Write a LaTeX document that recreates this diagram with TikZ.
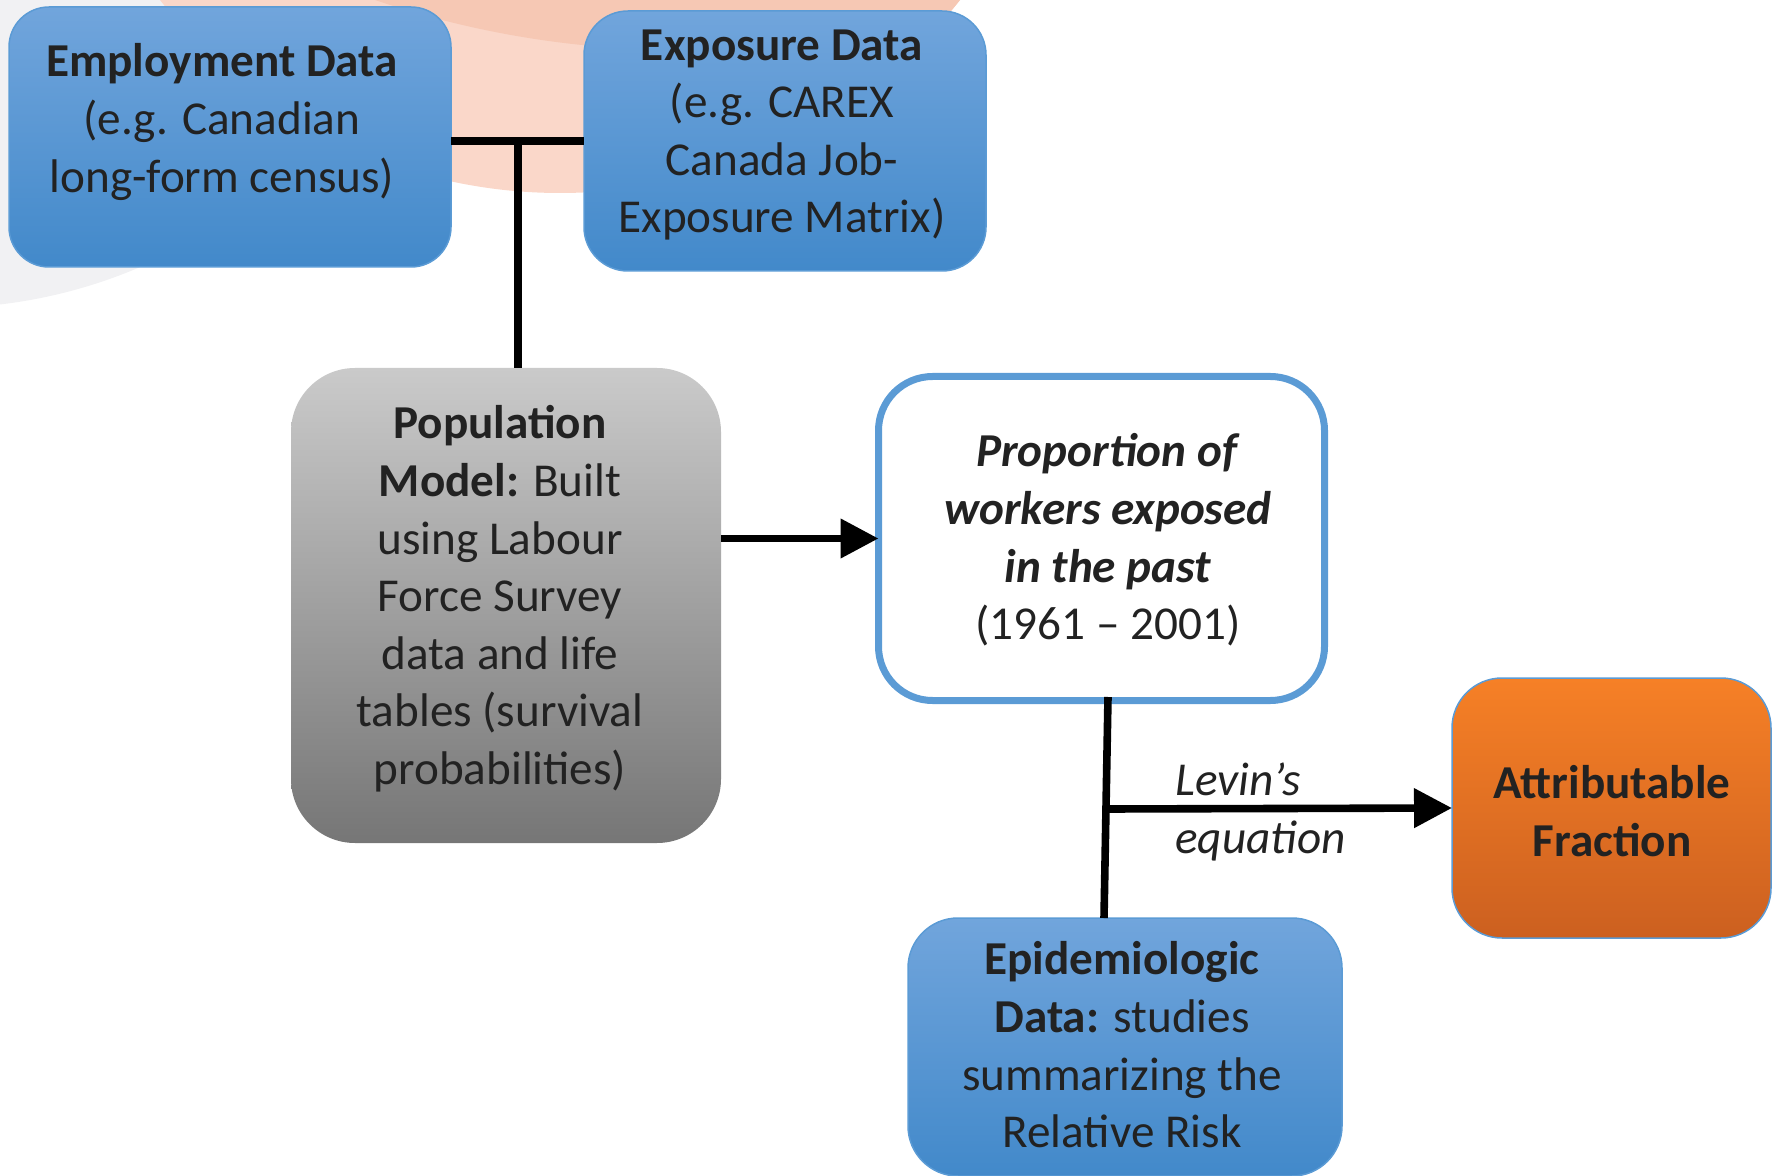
\documentclass[tikz,border=0pt]{standalone}
\usepackage{fontspec}
\setmainfont{Carlito}
\usetikzlibrary{arrows.meta,calc,positioning}

\definecolor{ink}{RGB}{34,34,34}
\definecolor{bluetop}{RGB}{113,165,220}
\definecolor{bluebot}{RGB}{66,137,202}
\definecolor{blueedge}{RGB}{91,155,213}
\definecolor{greytop}{RGB}{202,202,202}
\definecolor{greybot}{RGB}{118,118,118}
\definecolor{orangetop}{RGB}{246,128,38}
\definecolor{orangebot}{RGB}{204,96,32}
\definecolor{peach}{RGB}{250,215,201}
\definecolor{peachdark}{RGB}{246,200,180}
\definecolor{shadowgrey}{RGB}{241,241,243}

\newcommand{\boxfont}{\fontsize{23.6}{28.8}\selectfont}

\begin{document}
\begin{tikzpicture}[
  x=0.5pt, y=-0.5pt,
  box/.style={inner sep=0pt, outer sep=0pt},
  datab/.style={box, draw=blueedge, line width=0.75pt, top color=bluetop, bottom color=bluebot},
  modelb/.style={box, top color=greytop, bottom color=greybot},
  propb/.style={box, draw=blueedge, line width=3.5pt, fill=white},
  resultb/.style={box, draw=blueedge, line width=0.75pt, top color=orangetop, bottom color=orangebot},
  txt/.style={align=center, font=\boxfont, text=ink, inner sep=0pt},
  link/.style={line width=3.8pt},
  arr/.style={link, -{Triangle[length=19pt,width=19pt]}}
]
\useasboundingbox (0,0) rectangle (1777,1176);

% faint slide background
\begin{scope}
  \clip (0,0) rectangle (1777,1176);
  \fill[shadowgrey] (-60,-200) circle[radius=508];
  \fill[peach] (560,-318) circle[radius=511];
  \clip (560,-318) circle[radius=511];
  \fill[peachdark] (680,-900) circle[radius=950];
\end{scope}

% boxes
\node[datab, rounded corners=20pt, minimum width=221pt, minimum height=130pt] (emp) at (230,137) {};
\node[datab, rounded corners=22pt, minimum width=201pt, minimum height=130pt] (exp) at (785,141) {};
\node[modelb, rounded corners=32pt, minimum width=215pt, minimum height=237.5pt] (pop) at (506,605.5) {};
\node[propb, rounded corners=27pt, minimum width=223pt, minimum height=162pt] (prop) at (1101.5,538.5) {};
\node[resultb, rounded corners=25pt, minimum width=159.5pt, minimum height=130pt] (attr) at (1611.5,808) {};
\node[datab, rounded corners=25pt, minimum width=217pt, minimum height=129pt] (epi) at (1125,1047) {};

% texts
\node[txt] (empL) at (222,122) {\textbf{Employment Data}\\(e.g. Canadian\\long-form census)};
\node[txt] (expL) at (782,135) {\textbf{Exposure Data}\\(e.g. CAREX\\Canada Job-\\Exposure Matrix)};
\node[txt] (popL) at (500,599) {\textbf{Population}\\\textbf{Model:} Built\\using Labour\\Force Survey\\data and life\\tables (survival\\probabilities)};
\node[txt] (propL) at (1108,540) {\textbf{\textit{Proportion of}}\\\textbf{\textit{workers exposed}}\\\textbf{\textit{in the past}}\\(1961 – 2001)};
\node[txt] (attrL) at (1612,811) {\textbf{Attributable}\\\textbf{Fraction}};
\node[txt] (epiL) at (1122,1045) {\textbf{Epidemiologic}\\\textbf{Data:} studies\\summarizing the\\Relative Risk};

% connectors
\coordinate (join) at (518,141);
\coordinate (ltop) at (1108,697);
\coordinate (lbot) at (1104,918);
\coordinate (lmid) at (1106,809);

\draw[link] (emp.east |- exp.west) -- (exp.west);
\draw[link] (join) -- (join |- pop.north);
\draw[arr] (prop.west -| pop.east) -- (prop.west);
\draw[link] (ltop) -- (lbot);
\draw[arr] (lmid) -- (attr.west);

\node[txt, align=left, anchor=west, font=\boxfont\itshape] (levin) at (1175,812) {Levin’s\\equation};
\end{tikzpicture}
\end{document}
